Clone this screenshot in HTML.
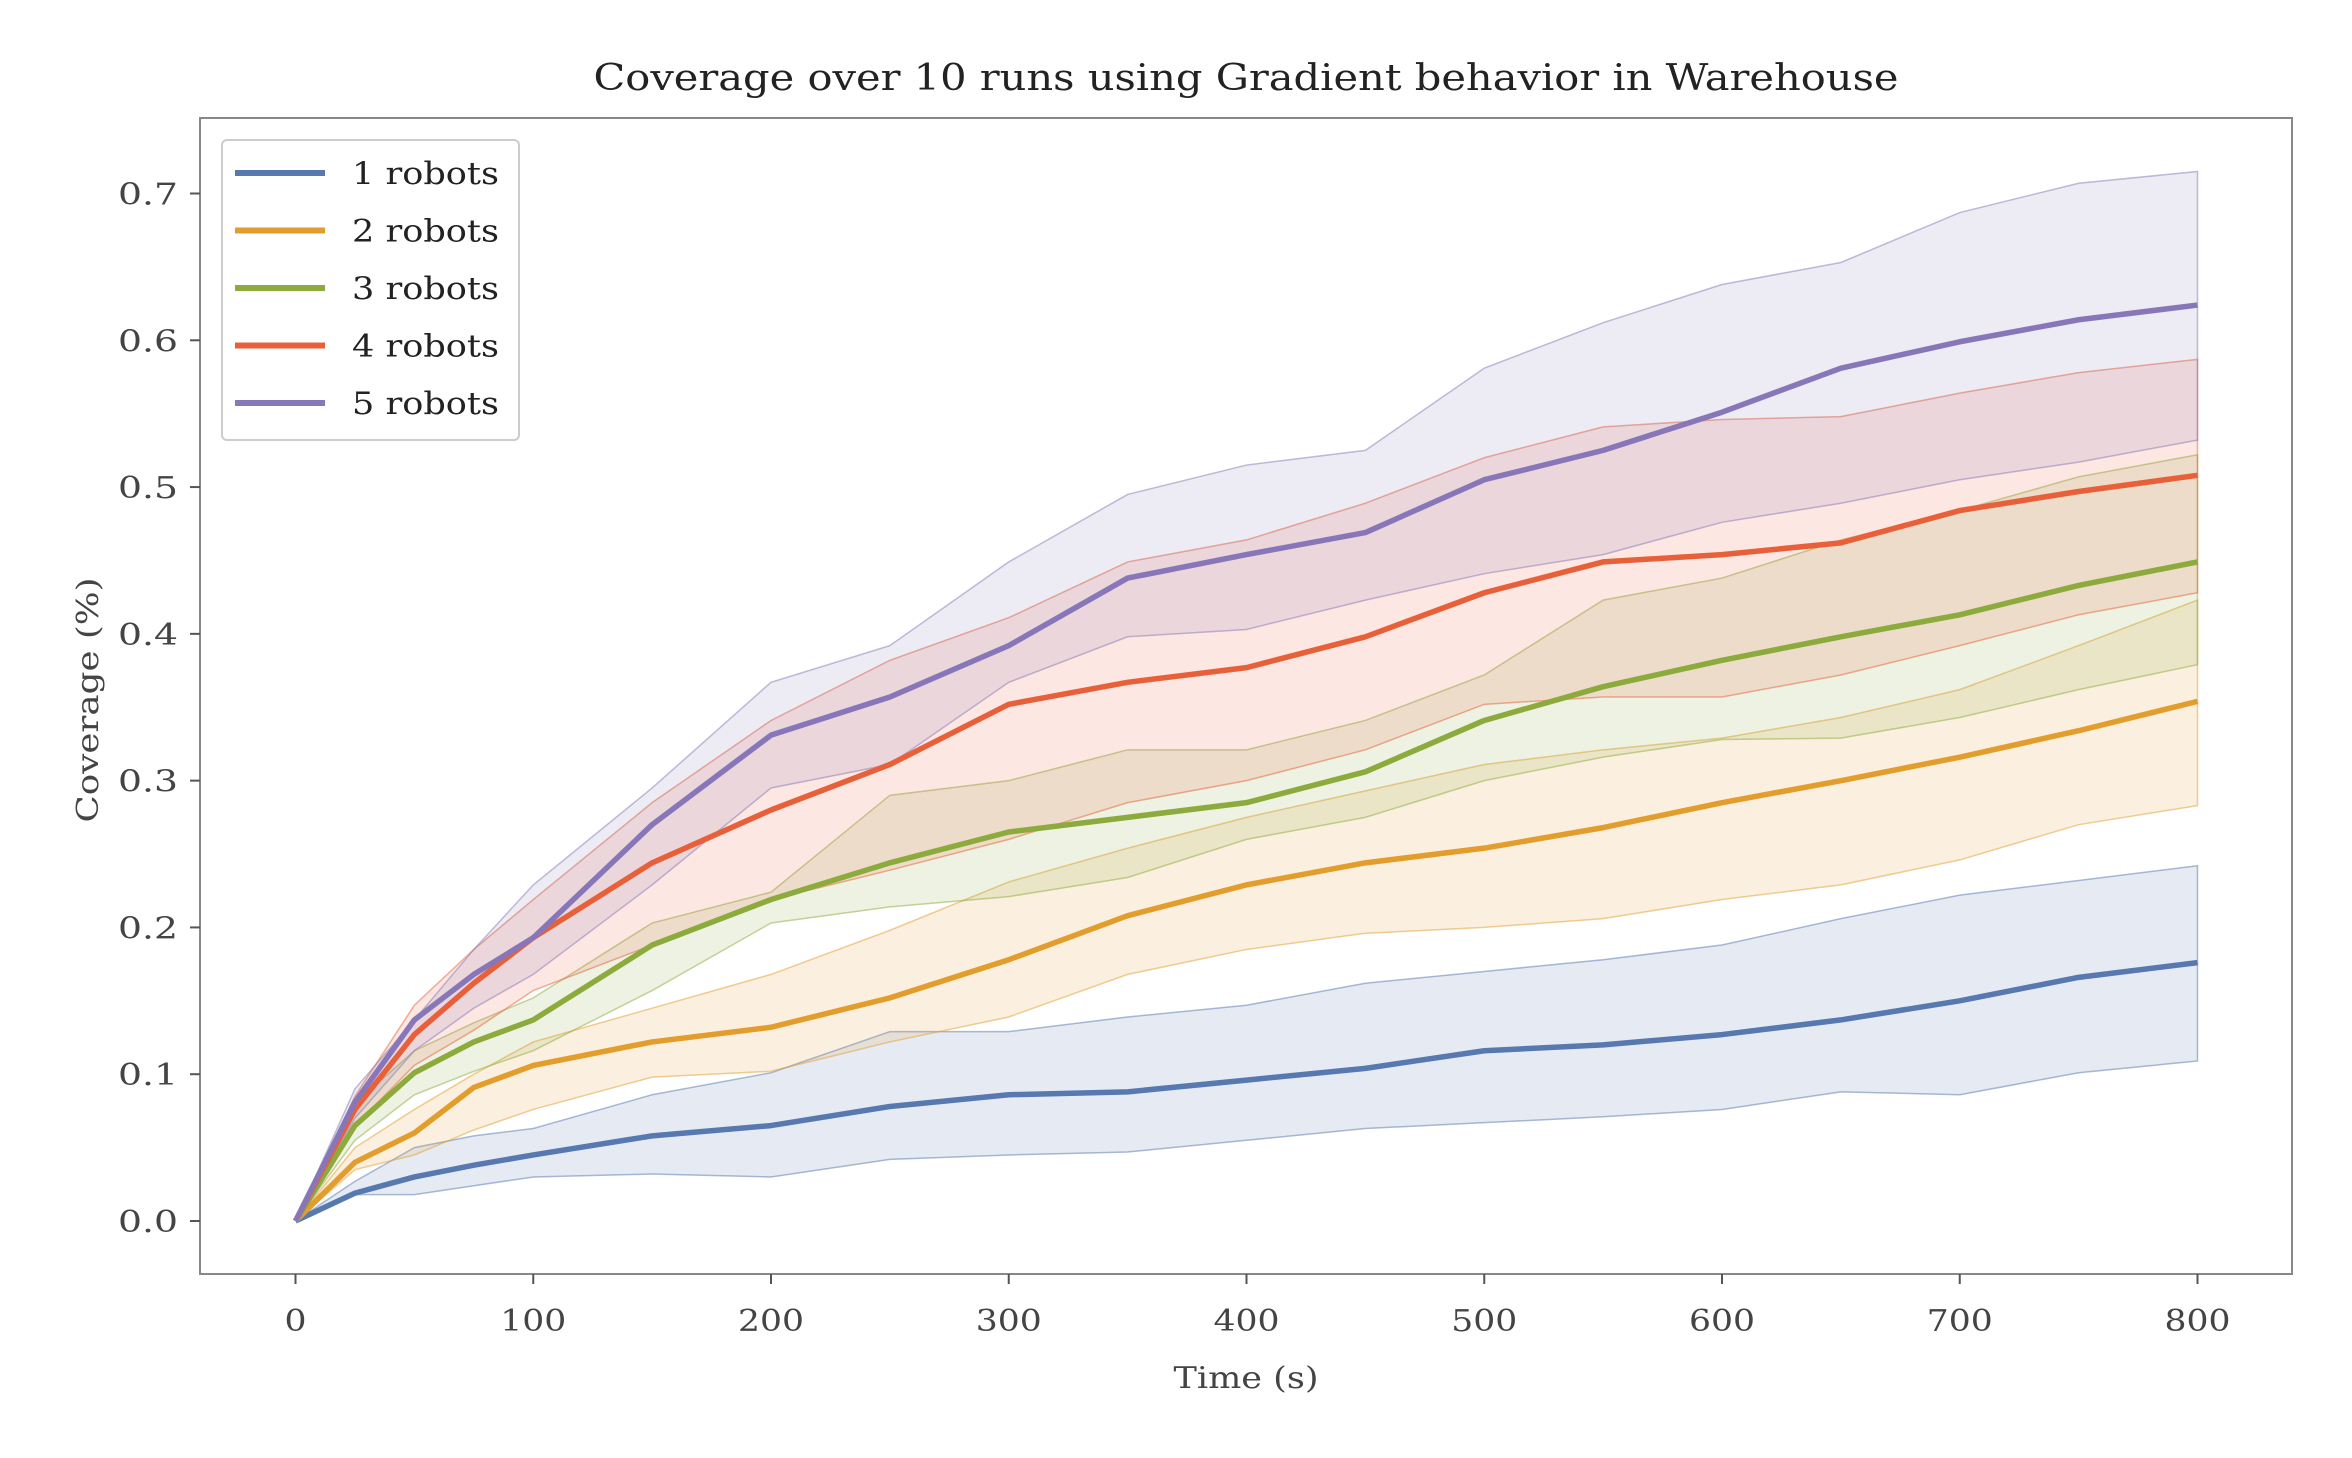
<!DOCTYPE html>
<html><head><meta charset="utf-8">
<style>
html,body{margin:0;padding:0;background:#fff;}
svg{display:block;font-family:"DejaVu Serif","Liberation Serif",serif;}
</style></head>
<body>
<svg id="chart" width="2352" height="1458" viewBox="0 0 2352 1458" xmlns="http://www.w3.org/2000/svg">
<rect width="2352" height="1458" fill="#fff"/>
<text x="1246" y="90" text-anchor="middle" font-size="36" textLength="1305" lengthAdjust="spacingAndGlyphs" fill="#222">Coverage over 10 runs using Gradient behavior in Warehouse</text>
<g id="bands"></g>
<g id="lines"></g>
<rect x="200" y="118" width="2092" height="1156" fill="none" stroke="#888" stroke-width="2"/>
<g id="xticks"></g>
<g id="yticks"></g>
<text x="1246" y="1388" text-anchor="middle" font-size="30" textLength="145" lengthAdjust="spacingAndGlyphs" fill="#444">Time (s)</text>
<text transform="translate(98,700) rotate(-90)" text-anchor="middle" font-size="30" textLength="245" lengthAdjust="spacingAndGlyphs" fill="#444">Coverage (%)</text>
<g id="legend"></g>
</svg>
<script>
const times=[0,25,50,75,100,150,200,250,300,350,400,450,500,550,600,650,700,750,800];
const names=["1 robots","2 robots","3 robots","4 robots","5 robots"];
const mean1=[0,0.019,0.030,0.038,0.045,0.058,0.065,0.078,0.086,0.088,0.096,0.104,0.116,0.120,0.127,0.137,0.150,0.166,0.176];
const low1=[0,0.018,0.018,0.024,0.030,0.032,0.030,0.042,0.045,0.047,0.055,0.063,0.067,0.071,0.076,0.088,0.086,0.101,0.109];
const up1=[0,0.027,0.050,0.058,0.063,0.086,0.101,0.129,0.129,0.139,0.147,0.162,0.170,0.178,0.188,0.206,0.222,0.232,0.242];
const mean2=[0,0.040,0.060,0.091,0.106,0.122,0.132,0.152,0.178,0.208,0.229,0.244,0.254,0.268,0.285,0.300,0.316,0.334,0.354];
const low2=[0,0.035,0.045,0.062,0.076,0.098,0.102,0.122,0.139,0.168,0.185,0.196,0.200,0.206,0.219,0.229,0.246,0.270,0.283];
const up2=[0,0.050,0.076,0.100,0.122,0.145,0.168,0.198,0.231,0.254,0.275,0.293,0.311,0.321,0.329,0.343,0.362,0.392,0.423];
const mean3=[0,0.065,0.101,0.122,0.137,0.188,0.219,0.244,0.265,0.275,0.285,0.306,0.341,0.364,0.382,0.398,0.413,0.433,0.449];
const low3=[0,0.055,0.086,0.102,0.116,0.157,0.203,0.214,0.221,0.234,0.260,0.275,0.300,0.316,0.328,0.329,0.343,0.362,0.379];
const up3=[0,0.080,0.116,0.135,0.152,0.203,0.224,0.290,0.300,0.321,0.321,0.341,0.372,0.423,0.438,0.464,0.484,0.507,0.522];
const mean4=[0,0.076,0.127,0.162,0.193,0.244,0.280,0.311,0.352,0.367,0.377,0.398,0.428,0.449,0.454,0.462,0.484,0.497,0.508];
const low4=[0,0.065,0.106,0.130,0.157,0.188,0.219,0.239,0.260,0.285,0.300,0.321,0.352,0.357,0.357,0.372,0.392,0.413,0.428];
const up4=[0,0.085,0.147,0.185,0.219,0.285,0.341,0.382,0.411,0.449,0.464,0.489,0.520,0.541,0.546,0.548,0.564,0.578,0.587];
const mean5=[0,0.081,0.137,0.168,0.193,0.270,0.331,0.357,0.392,0.438,0.454,0.469,0.505,0.525,0.551,0.581,0.599,0.614,0.624];
const low5=[0,0.070,0.116,0.145,0.168,0.229,0.295,0.311,0.367,0.398,0.403,0.423,0.441,0.454,0.476,0.489,0.505,0.517,0.532];
const up5=[0,0.090,0.137,0.185,0.229,0.295,0.367,0.392,0.449,0.495,0.515,0.525,0.581,0.612,0.638,0.653,0.687,0.707,0.715];
const xTicks=[0,100,200,300,400,500,600,700,800];
const yTicks=[0.0,0.1,0.2,0.3,0.4,0.5,0.6,0.7];
const colors=["#5878b0","#e39d2d","#8cab3c","#e8603a","#8877b8"];
const means=[mean1,mean2,mean3,mean4,mean5];
const lows=[low1,low2,low3,low4,low5];
const ups=[up1,up2,up3,up4,up5];
const NS="http://www.w3.org/2000/svg";
function xs(t){return 295.5+t*(2197.5-295.5)/800;}
function ys(v){return 1221-v*(1221-193.5)/0.7;}
function mk(tag,attrs,parent){const e=document.createElementNS(NS,tag);for(const k in attrs)e.setAttribute(k,attrs[k]);parent.appendChild(e);return e;}
const gB=document.getElementById("bands"),gL=document.getElementById("lines");
for(let s=0;s<5;s++){
  let d="M"+times.map((t,i)=>xs(t)+","+ys(ups[s][i])).join("L");
  for(let i=times.length-1;i>=0;i--)d+="L"+xs(times[i])+","+ys(lows[s][i]);
  d+="Z";
  const b=mk("path",{d:d,fill:colors[s],"fill-opacity":"0.15",stroke:colors[s],"stroke-opacity":"0.5","stroke-width":"1.5"},gB);
  
  
}
for(let s=0;s<5;s++){
  const p=mk("polyline",{points:times.map((t,i)=>xs(t)+","+ys(means[s][i])).join(" "),fill:"none",stroke:colors[s],"stroke-width":"5.5","stroke-linejoin":"round"},gL);
  
  
}
const gX=document.getElementById("xticks");
xTicks.forEach(t=>{
  const l=mk("line",{x1:xs(t),x2:xs(t),y1:1274,y2:1284,stroke:"#555","stroke-width":"2"},gX);
  
  
  const s=String(t);
  const tx=mk("text",{x:xs(t),y:1331,"text-anchor":"middle","font-size":"30",textLength:String(s.length*22),lengthAdjust:"spacingAndGlyphs",fill:"#444"},gX);
  tx.textContent=s;
  
  
});
const gY=document.getElementById("yticks");
yTicks.forEach(v=>{
  const l=mk("line",{x1:190,x2:200,y1:ys(v),y2:ys(v),stroke:"#555","stroke-width":"2"},gY);
  
  
  const tx=mk("text",{x:178,y:ys(v)+11,"text-anchor":"end","font-size":"30",textLength:"60",lengthAdjust:"spacingAndGlyphs",fill:"#444"},gY);
  tx.textContent=v.toFixed(1);
  
  
});
const gLg=document.getElementById("legend");
const box=mk("rect",{x:222,y:140,width:297,height:300,rx:5,fill:"#fff","fill-opacity":"0.85",stroke:"#ccc","stroke-width":"2"},gLg);


names.forEach((n,i)=>{
  const y=173+i*57.5;
  const l=mk("line",{x1:235,x2:325,y1:y,y2:y,stroke:colors[i],"stroke-width":"6"},gLg);
  
  
  const tx=mk("text",{x:352,y:y+11,"font-size":"31",textLength:"147",lengthAdjust:"spacingAndGlyphs",fill:"#222"},gLg);
  tx.textContent=n;
  
  
});
</script>
</body></html>
